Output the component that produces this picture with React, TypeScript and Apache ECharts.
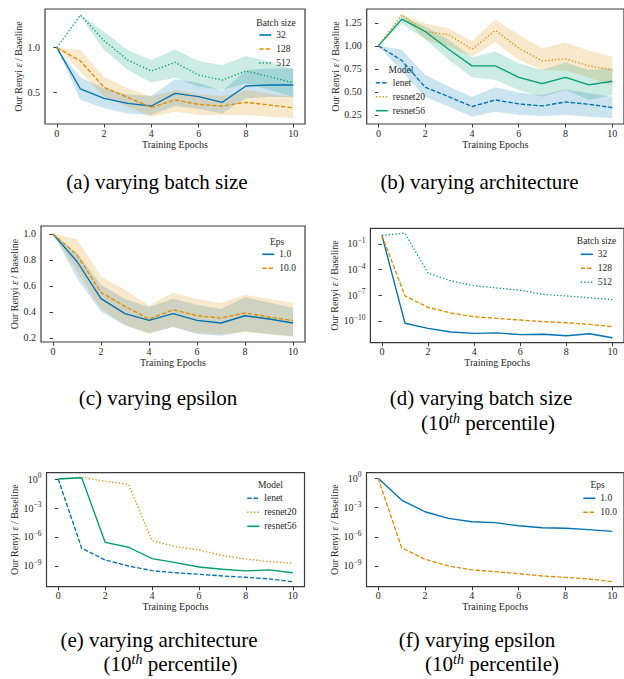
import React, { useEffect, useRef } from 'react';
import * as echarts from 'echarts';

// ---------- data ----------
const epochs = [0, 1, 2, 3, 4, 5, 6, 7, 8, 9, 10];
const xTicks = [0, 2, 4, 6, 8, 10];

// (a) varying batch size
const a32 = [1.0, 0.541, 0.437, 0.381, 0.352, 0.493, 0.456, 0.393, 0.574, 0.585, 0.585];
const a32Lo = [1.0, 0.42, 0.326, 0.27, 0.252, 0.352, 0.32, 0.27, 0.437, 0.456, 0.45];
const a32Hi = [1.0, 0.67, 0.548, 0.48, 0.467, 0.648, 0.61, 0.52, 0.75, 0.77, 0.77];
const a128 = [1.0, 0.852, 0.559, 0.448, 0.337, 0.419, 0.37, 0.352, 0.393, 0.363, 0.333];
const a128Lo = [1.0, 0.733, 0.456, 0.344, 0.233, 0.289, 0.252, 0.252, 0.252, 0.233, 0.215];
const a128Hi = [1.0, 0.974, 0.678, 0.548, 0.456, 0.53, 0.48, 0.463, 0.53, 0.485, 0.456];
const a512 = [1.0, 1.363, 1.078, 0.863, 0.741, 0.837, 0.696, 0.641, 0.741, 0.678, 0.611];
const a512Lo = [1.0, 1.35, 0.974, 0.752, 0.611, 0.667, 0.567, 0.53, 0.604, 0.53, 0.456];
const a512Hi = [1.0, 1.37, 1.178, 0.974, 0.863, 0.981, 0.852, 0.807, 0.907, 0.844, 0.763];

// (b) varying architecture
const bLenet = [1.0, 0.841, 0.551, 0.449, 0.341, 0.413, 0.37, 0.348, 0.391, 0.366, 0.33];
const bLenetLo = [1.0, 0.721, 0.449, 0.341, 0.232, 0.286, 0.25, 0.239, 0.25, 0.232, 0.214];
const bLenetHi = [1.0, 0.957, 0.685, 0.558, 0.449, 0.551, 0.493, 0.467, 0.529, 0.486, 0.449];
const bR20 = [1.0, 1.337, 1.156, 1.12, 0.964, 1.167, 0.975, 0.837, 0.859, 0.783, 0.739];
const bR20Lo = [1.0, 1.319, 1.072, 0.993, 0.884, 1.04, 0.848, 0.739, 0.732, 0.656, 0.565];
const bR20Hi = [1.0, 1.344, 1.239, 1.192, 1.054, 1.29, 1.12, 0.975, 1.036, 0.946, 0.884];
const bR56 = [1.0, 1.29, 1.156, 0.964, 0.783, 0.783, 0.659, 0.591, 0.659, 0.576, 0.616];
const bR56Lo = [1.0, 1.239, 1.072, 0.848, 0.659, 0.63, 0.522, 0.449, 0.522, 0.413, 0.467];
const bR56Hi = [1.0, 1.319, 1.21, 1.065, 0.877, 0.938, 0.812, 0.739, 0.819, 0.739, 0.757];

// (c) varying epsilon
const c1 = [1.0, 0.788, 0.502, 0.387, 0.335, 0.387, 0.335, 0.315, 0.371, 0.346, 0.315];
const c1Lo = [1.0, 0.66, 0.404, 0.295, 0.238, 0.284, 0.231, 0.218, 0.251, 0.231, 0.213];
const c1Hi = [1.0, 0.852, 0.609, 0.499, 0.438, 0.502, 0.456, 0.422, 0.514, 0.473, 0.43];
const c10 = [1.0, 0.839, 0.55, 0.443, 0.346, 0.417, 0.371, 0.353, 0.392, 0.361, 0.333];
const c10Lo = [1.0, 0.711, 0.422, 0.302, 0.231, 0.284, 0.238, 0.226, 0.246, 0.226, 0.208];
const c10Hi = [1.0, 0.959, 0.673, 0.571, 0.45, 0.55, 0.499, 0.468, 0.532, 0.499, 0.468];

// (d) varying batch size, 10th percentile
const d32 = [1, 5.4e-11, 1.4e-11, 5.2e-12, 3.6e-12, 4.0e-12, 2.5e-12, 2.8e-12, 1.9e-12, 3.2e-12, 1.1e-12];
const d128 = [1, 8.3e-8, 4.0e-9, 8.5e-10, 3.2e-10, 2.0e-10, 1.3e-10, 8.3e-11, 6.3e-11, 4.1e-11, 2.2e-11];
const d512 = [1, 1.8, 3.8e-5, 4.8e-6, 1.35e-6, 7.2e-7, 3.9e-7, 1.3e-7, 8.3e-8, 5.2e-8, 3.1e-8];

// (e) varying architecture, 10th percentile
const eLenet = [1, 6.8e-8, 4.2e-9, 1.0e-9, 3.3e-10, 2.0e-10, 1.4e-10, 9.3e-11, 6.8e-11, 4.6e-11, 2.4e-11];
const eR20 = [1, 1.5, 0.58, 0.28, 4.2e-7, 1.0e-7, 4.6e-8, 1.2e-8, 5.4e-9, 2.8e-9, 1.9e-9];
const eR56 = [1, 1.35, 2.8e-7, 8.7e-8, 5.8e-9, 2.2e-9, 7.9e-10, 4.6e-10, 3.1e-10, 3.9e-10, 2.0e-10];

// (f) varying epsilon, 10th percentile
const f1 = [1, 5.9e-3, 3.7e-4, 7.8e-5, 3.5e-5, 2.8e-5, 1.35e-5, 8.5e-6, 7.4e-6, 5.4e-6, 3.6e-6];
const f10 = [1, 7.4e-8, 4.8e-9, 1.0e-9, 3.9e-10, 2.6e-10, 1.6e-10, 9.3e-11, 6.8e-11, 4.6e-11, 2.4e-11];

const aTicks = [0.5, 1.0];
const bTicks = [0.25, 0.5, 0.75, 1.0, 1.25];
const cTicks = [0.2, 0.4, 0.6, 0.8, 1.0];
const dTicks = [1e-1, 1e-4, 1e-7, 1e-10];
const efTicks = [1e0, 1e-3, 1e-6, 1e-9];

const batchNames = ['32', '128', '512'];
const modelNames = ['lenet', 'resnet20', 'resnet56'];
const epsNames = ['1.0', '10.0'];

// ---------- styles ----------
const BLUE = '#0173b2';
const ORANGE = '#de8f05';
const GREEN = '#029e73';
const SERIF = "'Liberation Serif', 'DejaVu Serif', serif";
const INK = '#262626';
const SPINE = '#3a3a3a';
const DASH = [4.4, 1.9];
const DOT = [1.3, 2.1];

function lineSeries(name: string, vals: number[], color: string, type: any, gi: number) {
  return {
    type: 'line',
    name,
    xAxisIndex: gi,
    yAxisIndex: gi,
    data: epochs.map((x, i) => [x, vals[i]]),
    symbol: 'none',
    showSymbol: false,
    silent: true,
    z: 3,
    lineStyle: { color, width: 1.35, type },
    itemStyle: { color },
  };
}

function bandSeries(lo: number[], hi: number[], color: string, gi: number) {
  return {
    type: 'custom',
    name: 'band-' + gi + '-' + color,
    xAxisIndex: gi,
    yAxisIndex: gi,
    silent: true,
    z: 1,
    data: epochs.map((x, i) => [x, lo[i], hi[i]]),
    encode: { x: 0, y: [1, 2] },
    renderItem: (params: any, api: any) => {
      if (params.dataIndex !== 0) return null;
      const pts: number[][] = [];
      for (let i = 0; i < epochs.length; i++) pts.push(api.coord([epochs[i], hi[i]]));
      for (let i = epochs.length - 1; i >= 0; i--) pts.push(api.coord([epochs[i], lo[i]]));
      return { type: 'polygon', shape: { points: pts }, style: { fill: color, opacity: 0.2 } };
    },
  };
}

const grids = [
  { left: 45, top: 9, width: 260, height: 115 },
  { left: 366.7, top: 9, width: 258.8, height: 115 },
  { left: 41, top: 226, width: 264, height: 116 },
  { left: 370.4, top: 228.3, width: 255, height: 114.4 },
  { left: 46.5, top: 472.7, width: 258, height: 114 },
  { left: 366.5, top: 472.7, width: 259, height: 114 },
];
const yNameGaps = [17, 24.5, 18.7, 26.7, 26, 24.5];

const labelFont = { fontFamily: SERIF, fontSize: 10, color: INK };

function logFormatter(v: number) {
  const e = Math.round(Math.log10(v));
  return '10{s|' + (e < 0 ? '\u2212' : '') + Math.abs(e) + '}';
}

function buildOption() {
  const xAxes = grids.map((_, gi) => ({
    type: 'value',
    gridIndex: gi,
    min: -0.5,
    max: 10.5,
    name: 'Training Epochs',
    nameLocation: 'middle',
    nameGap: 15,
    nameTextStyle: { ...labelFont },
    axisLine: { show: false },
    axisTick: { show: true, length: 3.5, lineStyle: { color: SPINE, width: 1 }, customValues: xTicks },
    axisLabel: { ...labelFont, margin: 4, customValues: xTicks },
    splitLine: { show: false },
  }));

  const yCommon = (gi: number) => ({
    gridIndex: gi,
    name: 'Our Renyi {i|\u03b5} / Baseline',
    nameLocation: 'middle',
    nameGap: yNameGaps[gi],
    nameRotate: 90,
    nameTextStyle: {
      ...labelFont,
      rich: { i: { fontFamily: SERIF, fontSize: 10, fontStyle: 'italic', color: INK } },
    },
    axisLine: { show: false },
    splitLine: { show: false },
    minorTick: { show: false },
  });

  const linY = (gi: number, min: number, max: number, ticks: number[], dec: number) => ({
    ...yCommon(gi),
    type: 'value',
    min,
    max,
    axisTick: { show: true, length: 3.5, lineStyle: { color: SPINE, width: 1 }, customValues: ticks },
    axisLabel: { ...labelFont, margin: 5, customValues: ticks, formatter: (v: number) => v.toFixed(dec) },
  });

  const logY = (gi: number, min: number, max: number, ticks: number[]) => ({
    ...yCommon(gi),
    type: 'log',
    logBase: 10,
    min,
    max,
    axisTick: { show: true, length: 3.5, lineStyle: { color: SPINE, width: 1 }, customValues: ticks },
    axisLabel: {
      ...labelFont,
      margin: 5,
      customValues: ticks,
      formatter: logFormatter,
      rich: { s: { fontFamily: SERIF, fontSize: 7.5, color: INK, padding: [0, 0, 7, 0] } },
    },
  });

  const yAxes = [
    linY(0, 0.152, 1.43, aTicks, 1),
    linY(1, 0.152, 1.4, bTicks, 2),
    linY(2, 0.169, 1.061, cTicks, 1),
    logY(3, 2.9e-13, 6.8, dTicks),
    logY(4, 7.2e-12, 4.5, efTicks),
    logY(5, 7.4e-12, 3.8, efTicks),
  ];

  const series: any[] = [
    // (a)
    bandSeries(a32Lo, a32Hi, BLUE, 0),
    bandSeries(a128Lo, a128Hi, ORANGE, 0),
    bandSeries(a512Lo, a512Hi, GREEN, 0),
    lineSeries(batchNames[0], a32, BLUE, 'solid', 0),
    lineSeries(batchNames[1], a128, ORANGE, DASH, 0),
    lineSeries(batchNames[2], a512, GREEN, DOT, 0),
    // (b)
    bandSeries(bLenetLo, bLenetHi, BLUE, 1),
    bandSeries(bR20Lo, bR20Hi, ORANGE, 1),
    bandSeries(bR56Lo, bR56Hi, GREEN, 1),
    lineSeries(modelNames[0], bLenet, BLUE, DASH, 1),
    lineSeries(modelNames[1], bR20, ORANGE, DOT, 1),
    lineSeries(modelNames[2], bR56, GREEN, 'solid', 1),
    // (c)
    bandSeries(c1Lo, c1Hi, BLUE, 2),
    bandSeries(c10Lo, c10Hi, ORANGE, 2),
    lineSeries(epsNames[0], c1, BLUE, 'solid', 2),
    lineSeries(epsNames[1], c10, ORANGE, DASH, 2),
    // (d)
    lineSeries(batchNames[0], d32, BLUE, 'solid', 3),
    lineSeries(batchNames[1], d128, ORANGE, DASH, 3),
    lineSeries(batchNames[2], d512, GREEN, DOT, 3),
    // (e)
    lineSeries(modelNames[0], eLenet, BLUE, DASH, 4),
    lineSeries(modelNames[1], eR20, ORANGE, DOT, 4),
    lineSeries(modelNames[2], eR56, GREEN, 'solid', 4),
    // (f)
    lineSeries(epsNames[0], f1, BLUE, 'solid', 5),
    lineSeries(epsNames[1], f10, ORANGE, DASH, 5),
  ];

  const legendBase = {
    orient: 'vertical',
    itemWidth: 12,
    itemHeight: 8,
    itemGap: 0,
    padding: 0,
    selectedMode: false,
    itemStyle: { opacity: 0 },
    lineStyle: { width: 1.6 },
    textStyle: { fontFamily: SERIF, fontSize: 9.5, color: INK, lineHeight: 14 },
  };
  const legends = [
    { ...legendBase, left: 258.5, top: 28, data: batchNames },
    { ...legendBase, left: 375, top: 75.7, data: modelNames },
    { ...legendBase, left: 261.5, top: 247.3, data: epsNames },
    { ...legendBase, left: 580, top: 247.3, data: batchNames },
    { ...legendBase, left: 246.5, top: 491.3, data: modelNames },
    { ...legendBase, left: 582.5, top: 491.3, data: epsNames },
  ];

  const legendTitle = (text: string, x: number, y: number) => ({
    type: 'text',
    silent: true,
    style: { text, x, y, textAlign: 'center', textVerticalAlign: 'middle', fontFamily: SERIF, fontSize: 9.5, fill: INK },
  });

  const capRich = { s: { fontFamily: SERIF, fontSize: 14, fontStyle: 'italic', fill: '#000', padding: [0, 0, 9, 0] } };
  const caption = (text: string, x: number, y: number) => ({
    type: 'text',
    silent: true,
    style: {
      text, x, y, textAlign: 'center', textVerticalAlign: 'middle',
      fontFamily: SERIF, fontSize: 21, fill: '#000', rich: capRich,
    },
  });

  const graphic = [
    legendTitle('Batch size', 276, 22.7),
    legendTitle('Model', 401, 70),
    legendTitle('Eps', 277, 241.7),
    legendTitle('Batch size', 596.5, 240.7),
    legendTitle('Model', 270.5, 485),
    legendTitle('Eps', 597.5, 485),
    caption('(a) varying batch size', 157, 182),
    caption('(b) varying architecture', 479.5, 182),
    caption('(c) varying epsilon', 158, 398),
    caption('(d) varying batch size', 481, 398),
    caption('(10{s|th} percentile)', 488, 423),
    caption('(e) varying architecture', 159, 640),
    caption('(10{s|th} percentile)', 170.5, 664),
    caption('(f) varying epsilon', 477, 640),
    caption('(10{s|th} percentile)', 492, 664),
  ];

  return {
    animation: false,
    backgroundColor: '#ffffff',
    grid: grids.map((g) => ({ ...g, show: true, borderColor: SPINE, borderWidth: 1.2, backgroundColor: 'transparent' })),
    xAxis: xAxes,
    yAxis: yAxes,
    legend: legends,
    series,
    graphic,
  };
}

export default function App() {
  const ref = useRef<HTMLDivElement>(null);
  useEffect(() => {
    const chart = echarts.init(ref.current!, null, { renderer: 'svg' });
    chart.setOption(buildOption() as any);
    return () => chart.dispose();
  }, []);
  return (
    <div
      ref={ref}
      style={{ position: 'fixed', left: 0, top: 0, width: 624, height: 679, background: '#fff' }}
    />
  );
}
